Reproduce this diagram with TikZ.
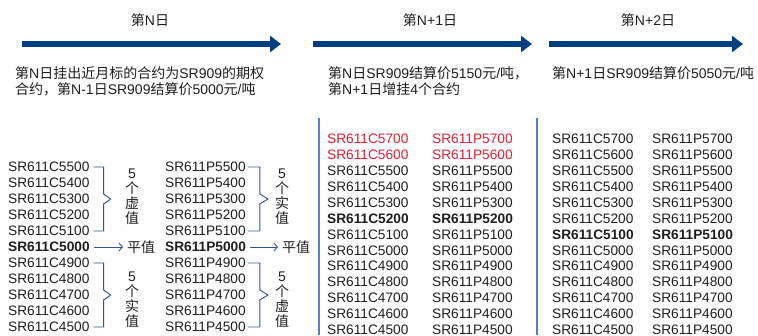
\documentclass[tikz,border=0pt]{standalone}
\usepackage{fontspec}
\usepackage{xcolor}
\usetikzlibrary{arrows.meta}
\setmainfont{Liberation Sans}
\newfontfamily\cjk{Noto Sans CJK SC}
\newcommand\zh[1]{{\cjk #1}}
\definecolor{navy}{RGB}{0,62,130}
\definecolor{brace}{RGB}{47,84,150}
\definecolor{rule}{RGB}{84,130,190}
\definecolor{hred}{RGB}{222,30,50}
\definecolor{ink}{RGB}{30,30,30}

\begin{document}
\begin{tikzpicture}[x=1pt,y=-1pt,
  every node/.style={text=ink,inner sep=0pt},
  ttl/.style={font=\fontsize{14}{16}\selectfont},
  note/.style={font=\fontsize{14}{16}\selectfont,align=left,anchor=north west},
  item/.style={font=\fontsize{13.7}{16}\selectfont,anchor=west},
  lbl/.style={font=\fontsize{14}{15}\selectfont,align=center},
  day/.style={navy,line width=6pt,-{Triangle[width=16pt,length=11pt]}},
  brk/.style={brace,line width=0.9pt},
  ptr/.style={brace,line width=0.9pt,-{Straight Barb[length=3.5pt,width=8pt]}},
  sep/.style={rule,line width=1.5pt}]
  \clip (0,0) rectangle (758,335);

  \node[ttl] (t0) at (150,20) {\zh{第}N\zh{日}};
  \node[ttl] (t1) at (430,20) {\zh{第}N+1\zh{日}};
  \node[ttl] (t2) at (648,20) {\zh{第}N+2\zh{日}};
  \coordinate (d0s) at (22,44);  \coordinate (d0e) at (281,44);
  \coordinate (d1s) at (313,44); \coordinate (d1e) at (532,44);
  \coordinate (d2s) at (549,44); \coordinate (d2e) at (743,44);
  \draw[day] (d0s) -- (d0e);
  \draw[day] (d1s) -- (d1e);
  \draw[day] (d2s) -- (d2e);

  \node[note] (n0) at (15,66) {\zh{第}N\zh{日挂出近月标的合约为}SR909\zh{的期权}\\\zh{合约，第}N-1\zh{日}SR909\zh{结算价}5000\zh{元}/\zh{吨}};
  \node[note] (n1) at (328,66) {\zh{第}N\zh{日}SR909\zh{结算价}5150\zh{元}/\zh{吨，}\\\zh{第}N+1\zh{日增挂}4\zh{个合约}};
  \node[note] (n2) at (552,66) {\zh{第}N+1\zh{日}SR909\zh{结算价}5050\zh{元}/\zh{吨}};

  \coordinate (s1a) at (319,118); \coordinate (s1b) at (319,335);
  \coordinate (s2a) at (537,118); \coordinate (s2b) at (537,335);
  \draw[sep] (s1a) -- (s1b);
  \draw[sep] (s2a) -- (s2b);

  \foreach \k [count=\i from 0] in {5500,5400,5300,5200,5100,5000,4900,4800,4700,4600,4500} {
    \node[item] (lc\i) at (8,{167+16*\i}) {\ifnum\i=5\bfseries\fi SR611C\k};
    \node[item] (lp\i) at (165,{167+16*\i}) {\ifnum\i=5\bfseries\fi SR611P\k};
  }
  \draw[brk] ([xshift=4]lc0.east) -- ++(10,0) -- ++(0,27) -- ++(7,5) -- ++(-7,5) -- ++(0,27) -- ++(-10,0);
  \draw[brk] ([xshift=4]lc6.east) -- ++(10,0) -- ++(0,27) -- ++(7,5) -- ++(-7,5) -- ++(0,27) -- ++(-10,0);
  \draw[brk] ([xshift=2]lp0.east) -- ++(12,0) -- ++(0,27) -- ++(8,5) -- ++(-8,5) -- ++(0,27) -- ++(-12,0);
  \draw[brk] ([xshift=2]lp6.east) -- ++(12,0) -- ++(0,27) -- ++(8,5) -- ++(-8,5) -- ++(0,27) -- ++(-12,0);
  \node[lbl] (lcu) at (132,197) {5\\\zh{个}\\\zh{虚}\\\zh{值}};
  \node[lbl] (lcd) at (132,300) {5\\\zh{个}\\\zh{实}\\\zh{值}};
  \node[lbl] (lpu) at (282,197) {5\\\zh{个}\\\zh{实}\\\zh{值}};
  \node[lbl] (lpd) at (282,300) {5\\\zh{个}\\\zh{虚}\\\zh{值}};
  \node[lbl,anchor=west] (lcz) at (127,247) {\zh{平值}};
  \node[lbl,anchor=west] (lpz) at (282,247) {\zh{平值}};
  \draw[ptr] ([xshift=4]lc5.east) -- ([xshift=-4]lcz.west);
  \draw[ptr] ([xshift=4]lp5.east) -- ([xshift=-4]lpz.west);

  \foreach \k [count=\i from 0] in {5700,5600,5500,5400,5300,5200,5100,5000,4900,4800,4700,4600,4500} {
    \node[item] (mc\i) at (327,{139+15.9*\i}) {\ifnum\i<2\color{hred}\fi\ifnum\i=5\bfseries\fi SR611C\k};
    \node[item] (mp\i) at (432,{139+15.9*\i}) {\ifnum\i<2\color{hred}\fi\ifnum\i=5\bfseries\fi SR611P\k};
    \node[item] (rc\i) at (552,{139+15.9*\i}) {\ifnum\i=6\bfseries\fi SR611C\k};
    \node[item] (rp\i) at (652,{139+15.9*\i}) {\ifnum\i=6\bfseries\fi SR611P\k};
  }
\end{tikzpicture}
\end{document}
